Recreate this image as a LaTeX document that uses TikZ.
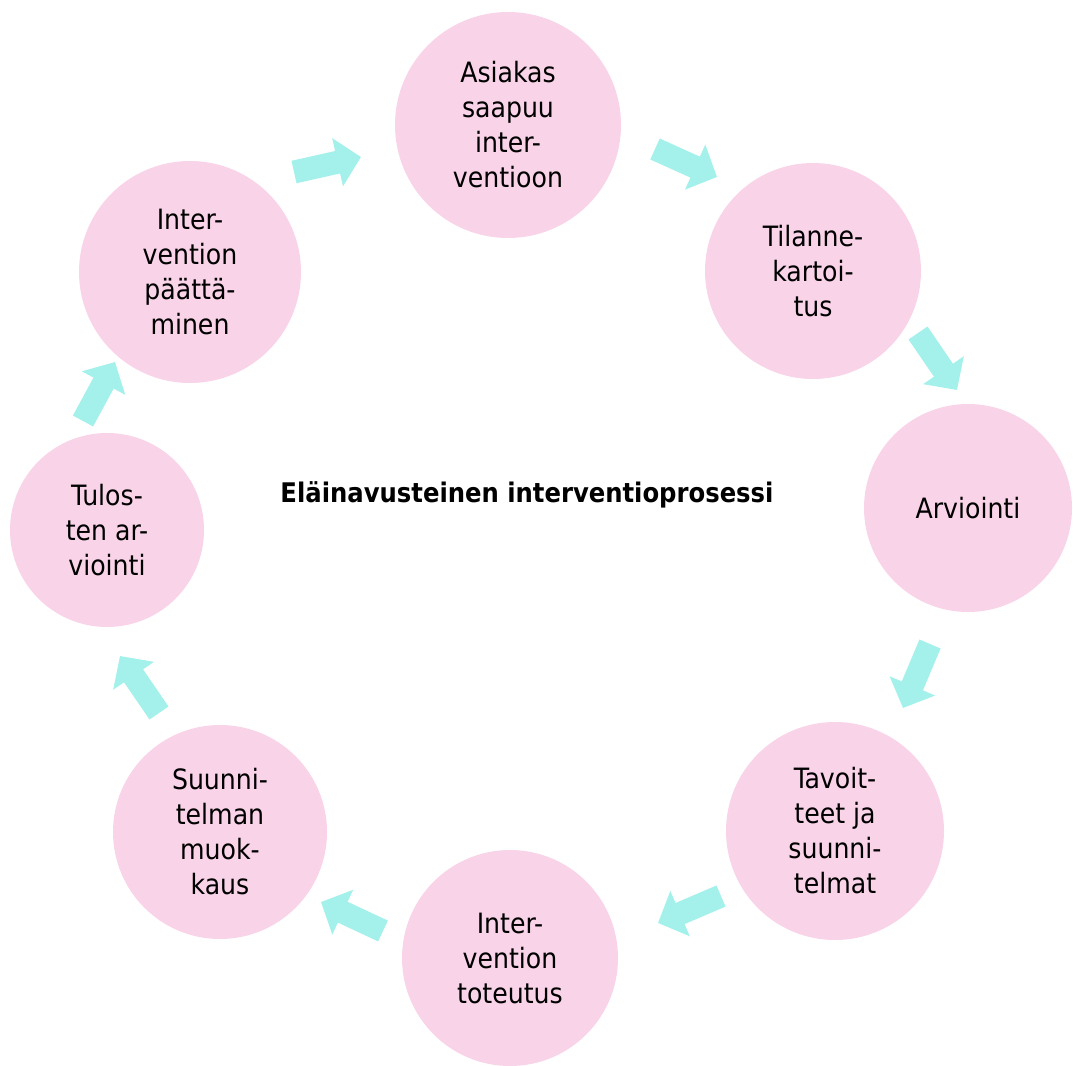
\documentclass[tikz,border=0pt]{standalone}
\usepackage{fontspec}
\setmainfont{DejaVu Sans Condensed}
\usetikzlibrary{arrows.meta}
\definecolor{stagepink}{HTML}{F9D3E8}
\definecolor{flowcyan}{HTML}{A4F0EA}
\tikzstyle{every node}=[font=\fontsize{28}{35}\selectfont]
\tikzstyle{stage}=[circle,fill=stagepink,align=center,inner sep=0pt]
\tikzstyle{flow}=[draw=flowcyan,line width=23pt,-{Triangle[length=24pt,width=48pt]}]

\begin{document}
\begin{tikzpicture}[x=1pt,y=-1pt]
    \useasboundingbox (0,0) rectangle (1073,1065);

    % Stages of the cycle
    \node[stage,minimum size=226pt] (asiakas) at (508,125) {Asiakas\\saapuu\\inter-\\ventioon};
    \node[stage,minimum size=216pt] (kartoitus) at (813,271) {Tilanne-\\kartoi-\\tus};
    \node[stage,minimum size=208pt] (arviointi) at (968,508) {Arviointi};
    \node[stage,minimum size=218pt] (tavoitteet) at (835,831) {Tavoit-\\teet ja\\suunni-\\telmat};
    \node[stage,minimum size=216pt] (toteutus) at (510,958) {Inter-\\vention\\toteutus};
    \node[stage,minimum size=214pt] (muokkaus) at (220,832) {Suunni-\\telman\\muok-\\kaus};
    \node[stage,minimum size=194pt] (tulokset) at (107,530) {Tulos-\\ten ar-\\viointi};
    \node[stage,minimum size=222pt] (paatos) at (190,272) {Inter-\\vention\\päättä-\\minen};

    % Title in the middle
    \node[font=\fontsize{27}{32}\selectfont\bfseries] (title) at (527,495) {Eläinavusteinen interventioprosessi};

    % Arrow end points
    \coordinate (a1s) at (294,172); \coordinate (a1e) at (361,157);
    \coordinate (a2s) at (655,149); \coordinate (a2e) at (717,177);
    \coordinate (a3s) at (918,333); \coordinate (a3e) at (957,390);
    \coordinate (a4s) at (930,644); \coordinate (a4e) at (903,708);
    \coordinate (a5s) at (721,896); \coordinate (a5e) at (658,923);
    \coordinate (a6s) at (383,931); \coordinate (a6e) at (321,902);
    \coordinate (a7s) at (159,713); \coordinate (a7e) at (120,656);
    \coordinate (a8s) at (83,421);  \coordinate (a8e) at (115,362);

    % Arrows between stages
    \foreach \i in {1,...,8}
        \draw[flow] (a\i s) -- (a\i e);
\end{tikzpicture}
\end{document}
